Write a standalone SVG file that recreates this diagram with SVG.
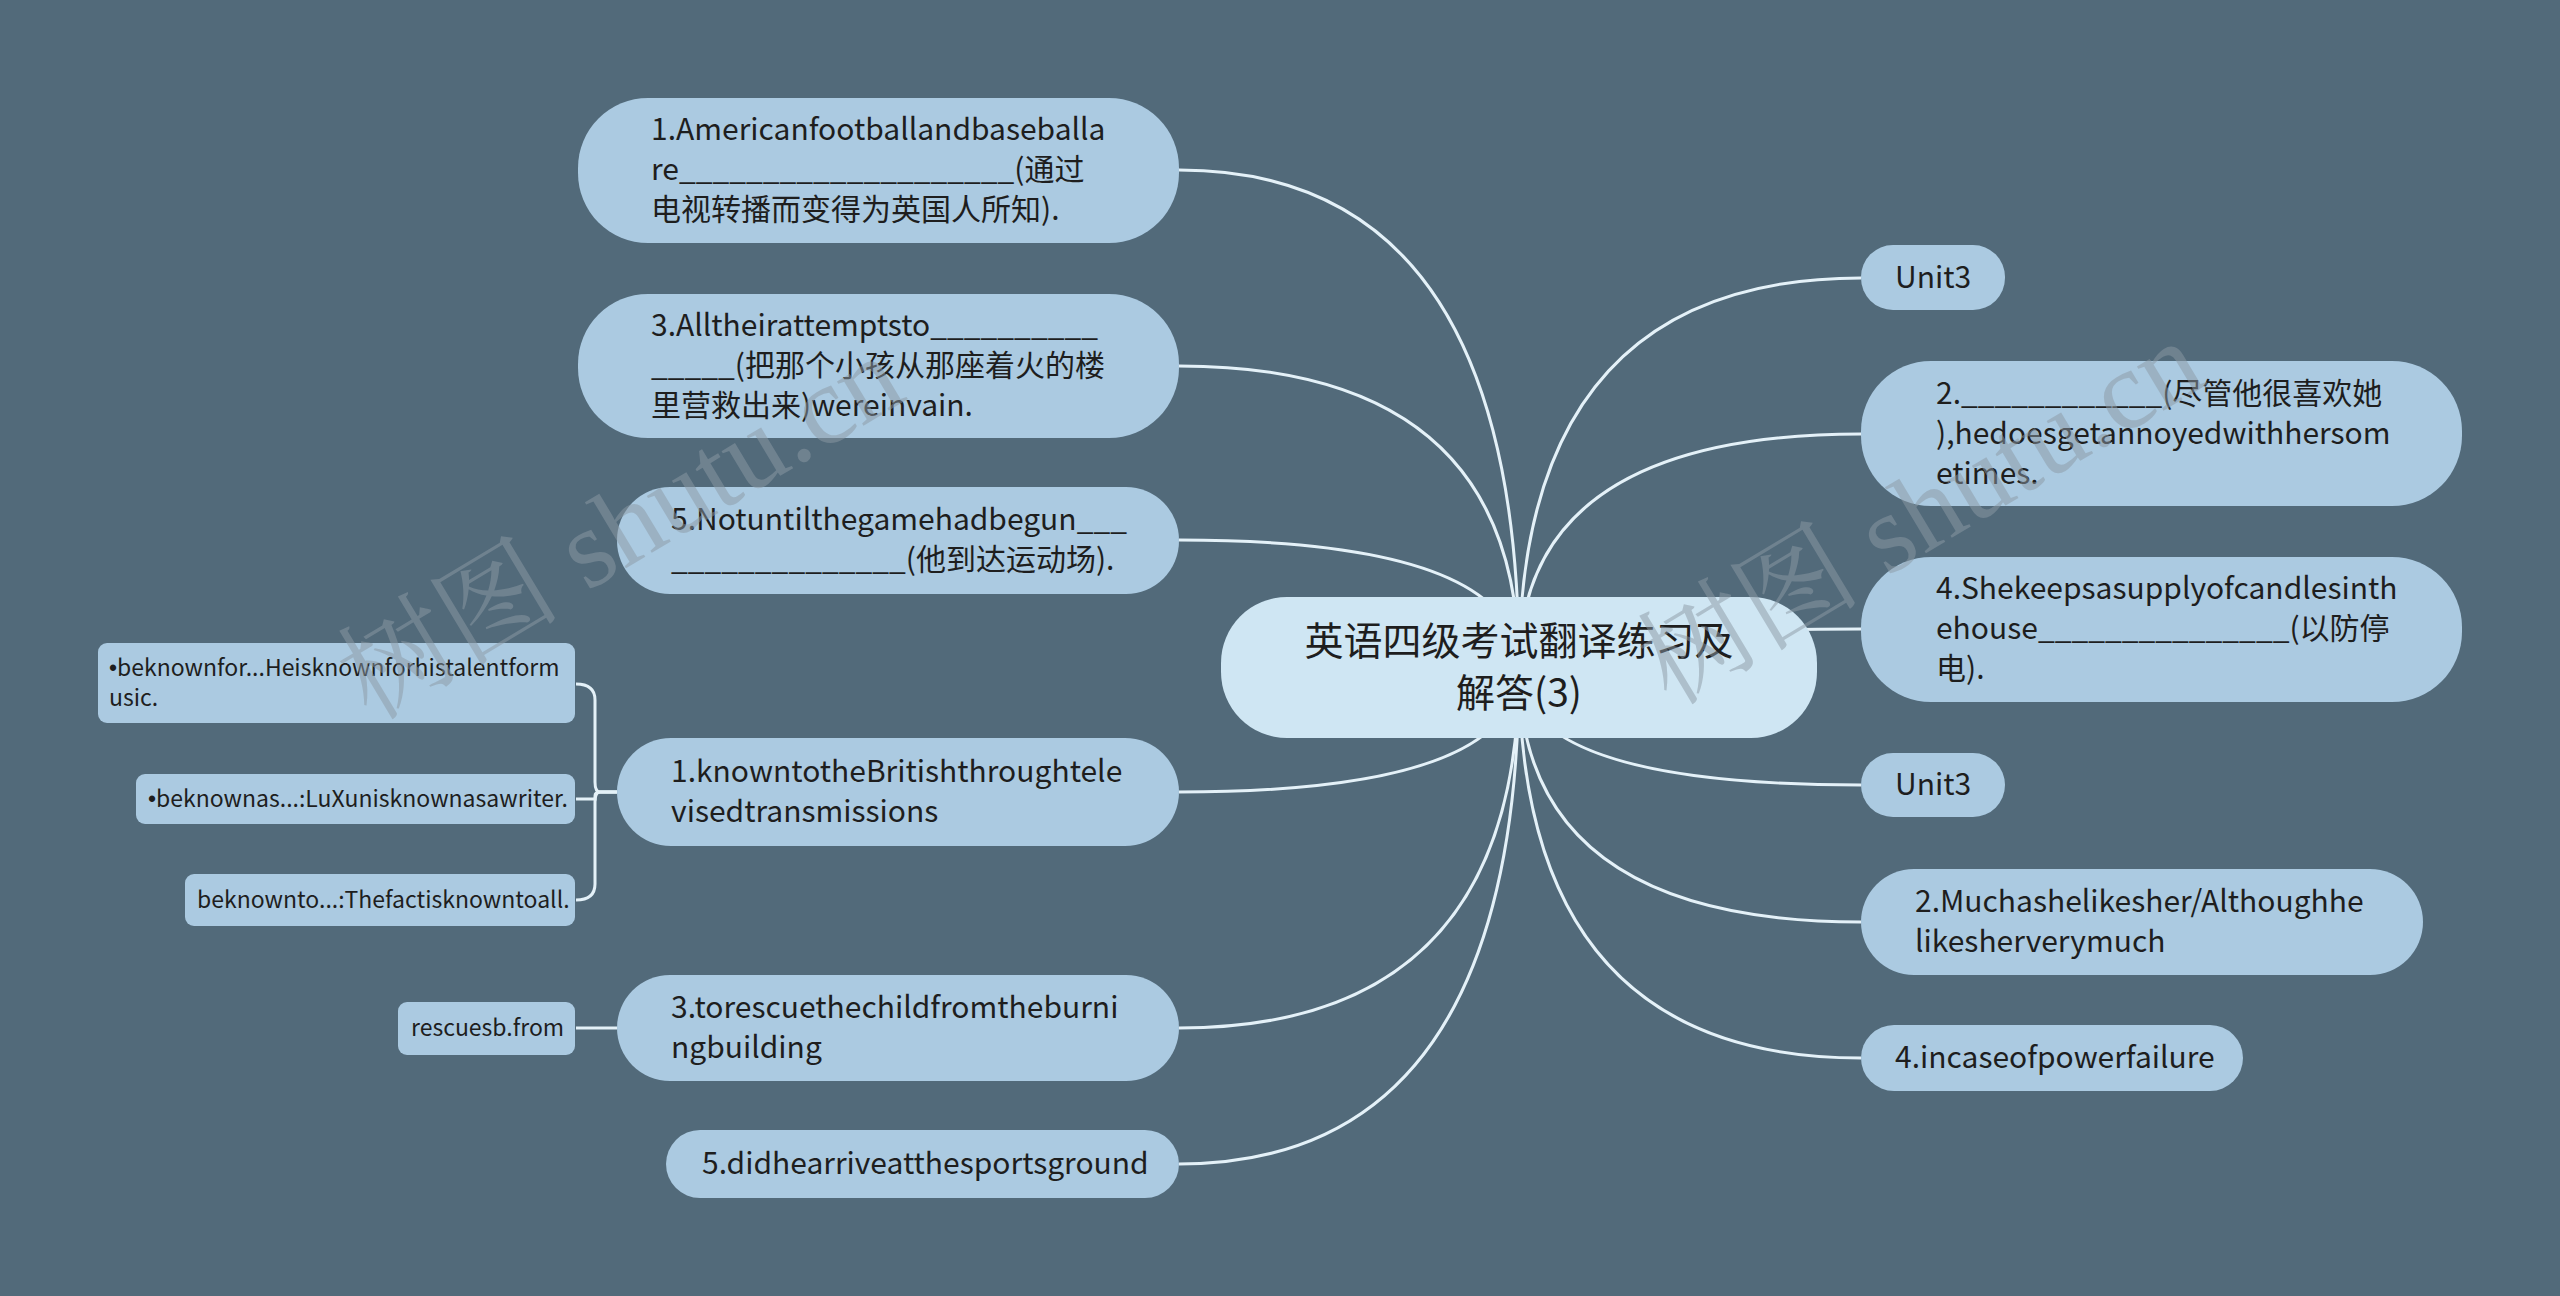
<svg xmlns="http://www.w3.org/2000/svg" width="2560" height="1296" viewBox="0 0 2560 1296">
<style>
.bg{fill:#526a7a}
.n{fill:#abcae1}
.c{fill:#cfe6f3}
.t{font-family:"Noto Sans CJK SC","Noto Sans",sans-serif;font-size:30px;fill:#1e1e1e}
.tc{font-family:"Noto Sans CJK SC","Noto Sans",sans-serif;font-size:39px;fill:#1e1e1e;text-anchor:middle}
.ts{font-family:"Noto Sans CJK SC","Noto Sans",sans-serif;font-size:23px;fill:#1e1e1e}
.b{font-family:"Liberation Sans",sans-serif}
.l{fill:none;stroke:#e4f1f8;stroke-width:3}
.wm{font-family:"Liberation Serif","Noto Serif CJK SC","Noto Sans CJK SC",serif;font-size:112px;fill:#8c9aa5;opacity:0.5;text-anchor:middle}
</style>
<rect class="bg" x="0" y="0" width="2560" height="1296"/>
<g id="connectors">
<path class="l" d="M1519,668 Q1519,170 1179,170"/>
<path class="l" d="M1519,668 Q1519,366 1179,366"/>
<path class="l" d="M1519,668 Q1519,540 1179,540"/>
<path class="l" d="M1519,668 Q1519,792 1179,792"/>
<path class="l" d="M1519,668 Q1519,1028 1179,1028"/>
<path class="l" d="M1519,668 Q1519,1164 1179,1164"/>
<path class="l" d="M1519,668 Q1519,278 1861,278"/>
<path class="l" d="M1519,668 Q1519,434 1861,434"/>
<path class="l" d="M1519,668 Q1519,629 1861,629"/>
<path class="l" d="M1519,668 Q1519,785 1861,785"/>
<path class="l" d="M1519,668 Q1519,922 1861,922"/>
<path class="l" d="M1519,668 Q1519,1058 1861,1058"/>
<path class="l" d="M617,792 H600 Q595,792 595,782 V700 Q595,684 576,684"/>
<path class="l" d="M617,792 H600 Q595,792 595,796 V799 H576"/>
<path class="l" d="M617,792 H600 Q595,792 595,802 V884 Q595,900 576,900"/>
<path class="l" d="M617,1028 H576"/>
</g>
<g id="center">
<rect class="c" x="1221" y="597" width="596" height="141" rx="66"/>
<text class="tc" x="1519" y="655">英语四级考试翻译练习及</text>
<text class="tc" x="1519" y="707">解答(3)</text>
</g>
<g id="L1">
<rect class="n" x="578" y="98" width="601" height="145" rx="70"/>
<text class="t" x="651" y="140">1.Americanfootballandbaseballa</text>
<text class="t" x="651" y="180">re____________________(通过</text>
<text class="t" x="651" y="220">电视转播而变得为英国人所知).</text>
</g>
<g id="L2">
<rect class="n" x="578" y="294" width="601" height="144" rx="70"/>
<text class="t" x="651" y="336">3.Alltheirattemptsto__________</text>
<text class="t" x="651" y="376">_____(把那个小孩从那座着火的楼</text>
<text class="t" x="651" y="416">里营救出来)wereinvain.</text>
</g>
<g id="L3">
<rect class="n" x="617" y="487" width="562" height="107" rx="53"/>
<text class="t" x="671" y="530">5.Notuntilthegamehadbegun___</text>
<text class="t" x="671" y="570">______________(他到达运动场).</text>
</g>
<g id="L4">
<rect class="n" x="617" y="738" width="562" height="108" rx="54"/>
<text class="t" x="671" y="782">1.knowntotheBritishthroughtele</text>
<text class="t" x="671" y="822">visedtransmissions</text>
</g>
<g id="L5">
<rect class="n" x="617" y="975" width="562" height="106" rx="53"/>
<text class="t" x="671" y="1018">3.torescuethechildfromtheburni</text>
<text class="t" x="671" y="1058">ngbuilding</text>
</g>
<g id="L6">
<rect class="n" x="666" y="1130" width="513" height="68" rx="34"/>
<text class="t" x="702" y="1174">5.didhearriveatthesportsground</text>
</g>
<g id="S1">
<rect class="n" x="98" y="643" width="477" height="80" rx="9"/>
<text class="ts" x="109" y="676"><tspan class="b">•</tspan>beknownfor...Heisknownforhistalentform</text>
<text class="ts" x="109" y="706">usic.</text>
</g>
<g id="S2">
<rect class="n" x="136" y="774" width="439" height="50" rx="9"/>
<text class="ts" x="148" y="807"><tspan class="b">•</tspan>beknownas...:LuXunisknownasawriter.</text>
</g>
<g id="S3">
<rect class="n" x="185" y="874" width="390" height="52" rx="9"/>
<text class="ts" x="197" y="908">beknownto...:Thefactisknowntoall.</text>
</g>
<g id="S4">
<rect class="n" x="398" y="1002" width="177" height="53" rx="9"/>
<text class="ts" x="411" y="1036">rescuesb.from</text>
</g>
<g id="R1">
<rect class="n" x="1861" y="245" width="144" height="65" rx="32"/>
<text class="t" x="1895" y="288">Unit3</text>
</g>
<g id="R2">
<rect class="n" x="1861" y="361" width="601" height="145" rx="70"/>
<text class="t" x="1936" y="404">2.____________(尽管他很喜欢她</text>
<text class="t" x="1936" y="444">),hedoesgetannoyedwithhersom</text>
<text class="t" x="1936" y="484">etimes.</text>
</g>
<g id="R3">
<rect class="n" x="1861" y="557" width="601" height="145" rx="70"/>
<text class="t" x="1936" y="599">4.Shekeepsasupplyofcandlesinth</text>
<text class="t" x="1936" y="639">ehouse_______________(以防停</text>
<text class="t" x="1936" y="679">电).</text>
</g>
<g id="R4">
<rect class="n" x="1861" y="753" width="144" height="64" rx="32"/>
<text class="t" x="1895" y="795">Unit3</text>
</g>
<g id="R5">
<rect class="n" x="1861" y="869" width="562" height="106" rx="53"/>
<text class="t" x="1915" y="912">2.Muchashelikesher/Althoughhe</text>
<text class="t" x="1915" y="952">likesherverymuch</text>
</g>
<g id="R6">
<rect class="n" x="1861" y="1025" width="382" height="66" rx="33"/>
<text class="t" x="1895" y="1068">4.incaseofpowerfailure</text>
</g>
<g id="watermark">
<text class="wm" transform="translate(640,560) rotate(-31)">树图 shutu.cn</text>
<text class="wm" transform="translate(1940,545) rotate(-31)">树图 shutu.cn</text>
</g>
</svg>
